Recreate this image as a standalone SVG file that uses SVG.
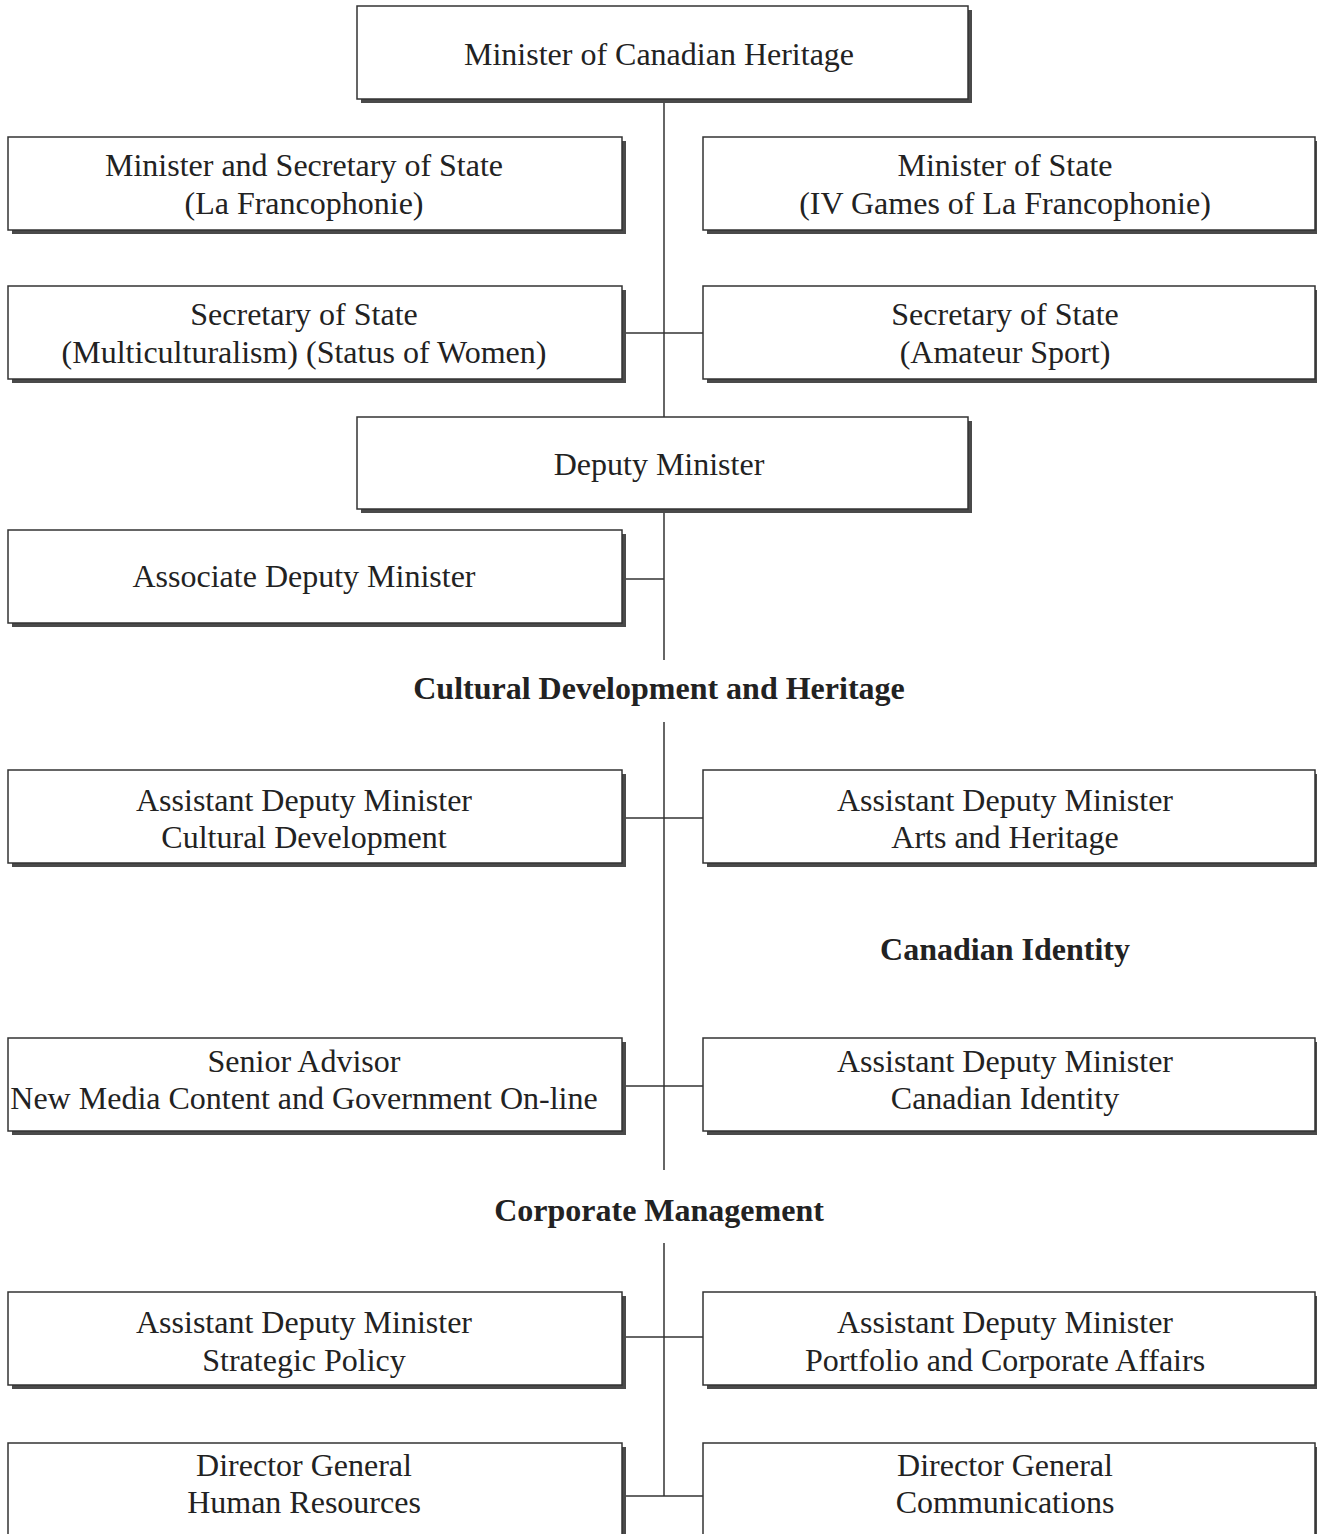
<svg xmlns="http://www.w3.org/2000/svg" width="1317" height="1534" viewBox="0 0 1317 1534">
<style>
.sh{fill:#4a4a4a}
.bx{fill:#fff;stroke:#333;stroke-width:1.5}
.t{font-family:"Liberation Serif","Times New Roman",serif;font-size:32px;fill:#222;text-anchor:middle}
.h{font-family:"Liberation Serif","Times New Roman",serif;font-size:32px;font-weight:bold;fill:#222;text-anchor:middle}
.v{stroke:#666;stroke-width:2;fill:none}
.c{stroke:#333;stroke-width:1.5;fill:none}
</style>
<rect width="1317" height="1534" fill="#fff"/>
<g id="connectors">
<line class="v" x1="664" y1="99" x2="664" y2="417"/>
<line class="v" x1="664" y1="509" x2="664" y2="660"/>
<line class="v" x1="664" y1="722" x2="664" y2="1170"/>
<line class="v" x1="664" y1="1243" x2="664" y2="1496"/>
<line class="c" x1="622" y1="333" x2="703" y2="333"/>
<line class="c" x1="622" y1="579" x2="664" y2="579"/>
<line class="c" x1="622" y1="818" x2="703" y2="818"/>
<line class="c" x1="622" y1="1086" x2="703" y2="1086"/>
<line class="c" x1="622" y1="1337" x2="703" y2="1337"/>
<line class="c" x1="622" y1="1496" x2="703" y2="1496"/>
</g>
<g id="minister">
<rect class="sh" x="361" y="10" width="611" height="93"/>
<rect class="bx" x="357" y="6" width="611" height="93"/>
<text class="t" x="659" y="65">Minister of Canadian Heritage</text>
</g>
<g id="min-sec-francophonie">
<rect class="sh" x="12" y="141" width="614" height="93"/>
<rect class="bx" x="8" y="137" width="614" height="93"/>
<text class="t" x="304" y="176">Minister and Secretary of State</text>
<text class="t" x="304" y="214">(La Francophonie)</text>
</g>
<g id="min-state-games">
<rect class="sh" x="707" y="141" width="612" height="93"/>
<rect class="bx" x="703" y="137" width="612" height="93"/>
<text class="t" x="1005" y="176">Minister of State</text>
<text class="t" x="1005" y="214">(IV Games of La Francophonie)</text>
</g>
<g id="sec-multi">
<rect class="sh" x="12" y="290" width="614" height="93"/>
<rect class="bx" x="8" y="286" width="614" height="93"/>
<text class="t" x="304" y="325">Secretary of State</text>
<text class="t" x="304" y="363">(Multiculturalism) (Status of Women)</text>
</g>
<g id="sec-sport">
<rect class="sh" x="707" y="290" width="612" height="93"/>
<rect class="bx" x="703" y="286" width="612" height="93"/>
<text class="t" x="1005" y="325">Secretary of State</text>
<text class="t" x="1005" y="363">(Amateur Sport)</text>
</g>
<g id="deputy">
<rect class="sh" x="361" y="421" width="611" height="92"/>
<rect class="bx" x="357" y="417" width="611" height="92"/>
<text class="t" x="659" y="475">Deputy Minister</text>
</g>
<g id="associate">
<rect class="sh" x="12" y="534" width="614" height="93"/>
<rect class="bx" x="8" y="530" width="614" height="93"/>
<text class="t" x="304" y="587">Associate Deputy Minister</text>
</g>
<g id="title-cultural">
<text class="h" x="659" y="699">Cultural Development and Heritage</text>
</g>
<g id="adm-cultural">
<rect class="sh" x="12" y="774" width="614" height="93"/>
<rect class="bx" x="8" y="770" width="614" height="93"/>
<text class="t" x="304" y="811">Assistant Deputy Minister</text>
<text class="t" x="304" y="848">Cultural Development</text>
</g>
<g id="adm-arts">
<rect class="sh" x="707" y="774" width="612" height="93"/>
<rect class="bx" x="703" y="770" width="612" height="93"/>
<text class="t" x="1005" y="811">Assistant Deputy Minister</text>
<text class="t" x="1005" y="848">Arts and Heritage</text>
</g>
<g id="title-identity">
<text class="h" x="1005" y="960">Canadian Identity</text>
</g>
<g id="senior-advisor">
<rect class="sh" x="12" y="1042" width="614" height="93"/>
<rect class="bx" x="8" y="1038" width="614" height="93"/>
<text class="t" x="304" y="1072">Senior Advisor</text>
<text class="t" x="304" y="1109">New Media Content and Government On-line</text>
</g>
<g id="adm-identity">
<rect class="sh" x="707" y="1042" width="612" height="93"/>
<rect class="bx" x="703" y="1038" width="612" height="93"/>
<text class="t" x="1005" y="1072">Assistant Deputy Minister</text>
<text class="t" x="1005" y="1109">Canadian Identity</text>
</g>
<g id="title-corporate">
<text class="h" x="659" y="1221">Corporate Management</text>
</g>
<g id="adm-strategic">
<rect class="sh" x="12" y="1296" width="614" height="93"/>
<rect class="bx" x="8" y="1292" width="614" height="93"/>
<text class="t" x="304" y="1333">Assistant Deputy Minister</text>
<text class="t" x="304" y="1371">Strategic Policy</text>
</g>
<g id="adm-portfolio">
<rect class="sh" x="707" y="1296" width="612" height="93"/>
<rect class="bx" x="703" y="1292" width="612" height="93"/>
<text class="t" x="1005" y="1333">Assistant Deputy Minister</text>
<text class="t" x="1005" y="1371">Portfolio and Corporate Affairs</text>
</g>
<g id="dg-hr">
<rect class="sh" x="12" y="1447" width="614" height="100"/>
<rect class="bx" x="8" y="1443" width="614" height="100"/>
<text class="t" x="304" y="1476">Director General</text>
<text class="t" x="304" y="1513">Human Resources</text>
</g>
<g id="dg-comm">
<rect class="sh" x="707" y="1447" width="612" height="100"/>
<rect class="bx" x="703" y="1443" width="612" height="100"/>
<text class="t" x="1005" y="1476">Director General</text>
<text class="t" x="1005" y="1513">Communications</text>
</g>
</svg>
